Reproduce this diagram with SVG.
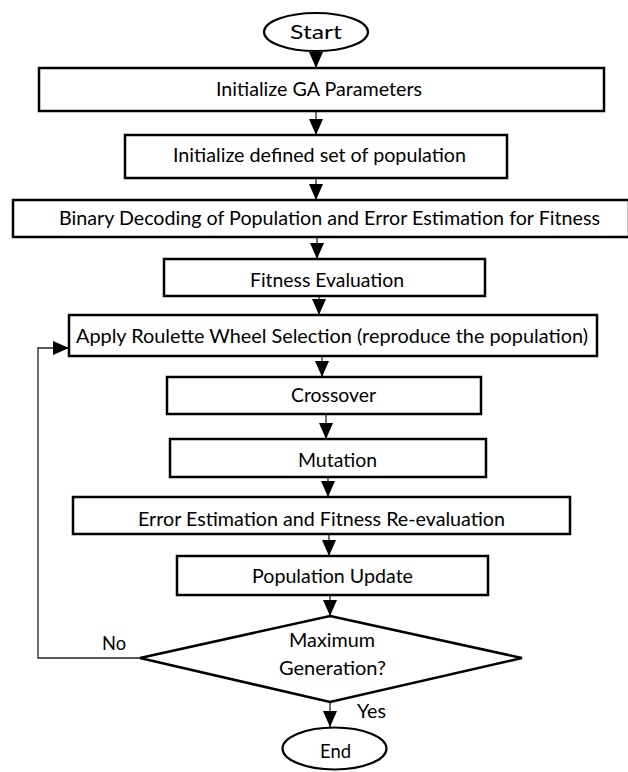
<svg xmlns="http://www.w3.org/2000/svg" width="628" height="772" viewBox="0 0 628 772">
<style>
.box{fill:#fff;stroke:#000;stroke-width:2.5}
.term{fill:#fff;stroke:#000;stroke-width:2.2}
.lbl{font-family:Lato,"Open Sans","Liberation Sans",sans-serif;font-size:20px;fill:#000;text-anchor:middle}
.con{fill:none;stroke:#222;stroke-width:1.3}
</style>
<defs>
<marker id="ah" viewBox="0 0 16 14" refX="16" refY="7" markerWidth="16" markerHeight="14" markerUnits="userSpaceOnUse" orient="auto">
<path d="M0,0 L16,7 L0,14 Z" fill="#000"/>
</marker>
</defs>
<rect width="628" height="772" fill="#fff"/>
<g id="connectors">
<line class="con" x1="316" y1="51" x2="316" y2="68" marker-end="url(#ah)"/>
<line class="con" x1="316" y1="111" x2="316" y2="135" marker-end="url(#ah)"/>
<line class="con" x1="316" y1="178" x2="316" y2="200" marker-end="url(#ah)"/>
<line class="con" x1="317" y1="237" x2="317" y2="259" marker-end="url(#ah)"/>
<line class="con" x1="319" y1="296" x2="319" y2="315" marker-end="url(#ah)"/>
<line class="con" x1="322" y1="356" x2="322" y2="377" marker-end="url(#ah)"/>
<line class="con" x1="326" y1="414" x2="326" y2="439" marker-end="url(#ah)"/>
<line class="con" x1="328" y1="477" x2="328" y2="497" marker-end="url(#ah)"/>
<line class="con" x1="329" y1="534" x2="329" y2="556" marker-end="url(#ah)"/>
<line class="con" x1="330" y1="595" x2="330" y2="616" marker-end="url(#ah)"/>
<line class="con" x1="330" y1="702" x2="330" y2="727" marker-end="url(#ah)"/>
<polyline class="con" points="140,658 38,658 38,348 69,348" marker-end="url(#ah)"/>
<text class="lbl" x="114" y="650" textLength="24" lengthAdjust="spacingAndGlyphs">No</text>
<text class="lbl" x="371.5" y="718" textLength="29" lengthAdjust="spacingAndGlyphs">Yes</text>
</g>
<g id="start">
<ellipse class="term" cx="316" cy="32" rx="52" ry="19"/>
<text class="lbl" x="316" y="39" textLength="52" lengthAdjust="spacingAndGlyphs">Start</text>
</g>
<g id="init-ga">
<rect class="box" x="39" y="68" width="565" height="43"/>
<text class="lbl" x="319" y="96" textLength="206" lengthAdjust="spacingAndGlyphs">Initialize GA Parameters</text>
</g>
<g id="init-pop">
<rect class="box" x="125" y="135" width="382" height="43"/>
<text class="lbl" x="319.5" y="162" textLength="293" lengthAdjust="spacingAndGlyphs">Initialize defined set of population</text>
</g>
<g id="decode">
<rect class="box" x="13" y="200" width="616" height="37"/>
<text class="lbl" x="329.5" y="225" textLength="541" lengthAdjust="spacingAndGlyphs">Binary Decoding of Population and Error Estimation for Fitness</text>
</g>
<g id="fitness">
<rect class="box" x="164" y="259" width="321" height="37"/>
<text class="lbl" x="327" y="287" textLength="154" lengthAdjust="spacingAndGlyphs">Fitness Evaluation</text>
</g>
<g id="selection">
<rect class="box" x="69" y="315" width="528" height="41"/>
<text class="lbl" x="332" y="343" textLength="512" lengthAdjust="spacingAndGlyphs">Apply Roulette Wheel Selection (reproduce the population)</text>
</g>
<g id="crossover">
<rect class="box" x="167" y="377" width="314" height="37"/>
<text class="lbl" x="333.5" y="401.5" textLength="85" lengthAdjust="spacingAndGlyphs">Crossover</text>
</g>
<g id="mutation">
<rect class="box" x="170" y="439" width="316" height="38"/>
<text class="lbl" x="337.5" y="467" textLength="79" lengthAdjust="spacingAndGlyphs">Mutation</text>
</g>
<g id="reeval">
<rect class="box" x="73" y="497" width="497" height="37"/>
<text class="lbl" x="321.5" y="525.5" textLength="367" lengthAdjust="spacingAndGlyphs">Error Estimation and Fitness Re-evaluation</text>
</g>
<g id="update">
<rect class="box" x="177" y="556" width="311" height="39"/>
<text class="lbl" x="332.5" y="583" textLength="161" lengthAdjust="spacingAndGlyphs">Population Update</text>
</g>
<g id="decision">
<polygon class="box" points="330,616 522,658 330,702 140,658"/>
<text class="lbl" x="332" y="647" textLength="86" lengthAdjust="spacingAndGlyphs">Maximum</text>
<text class="lbl" x="332.5" y="675" textLength="107" lengthAdjust="spacingAndGlyphs">Generation?</text>
</g>
<g id="end">
<ellipse class="term" cx="334.5" cy="748.5" rx="52" ry="21"/>
<text class="lbl" x="335.5" y="758" textLength="31" lengthAdjust="spacingAndGlyphs">End</text>
</g>
</svg>
